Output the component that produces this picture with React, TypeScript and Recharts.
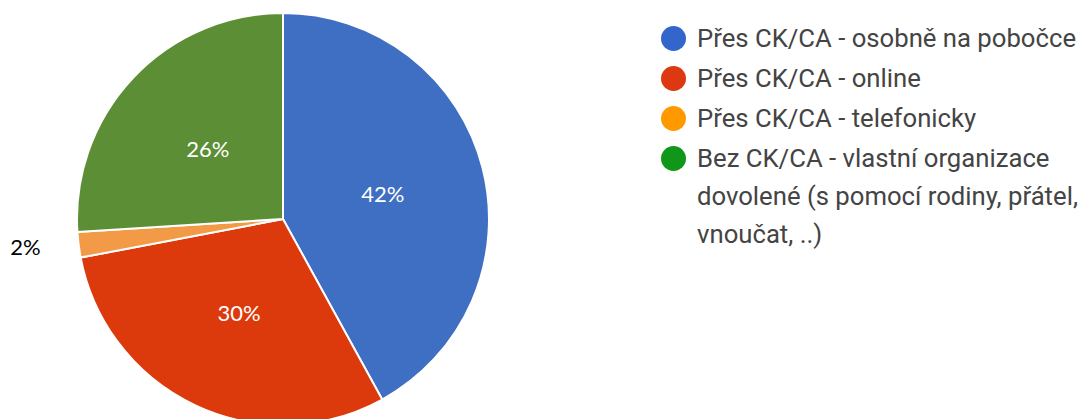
import { PieChart, Pie, Cell } from "recharts";

const categories = [
  "Přes CK/CA - osobně na pobočce",
  "Přes CK/CA - online",
  "Přes CK/CA - telefonicky",
  "Bez CK/CA - vlastní organizace dovolené (s pomocí rodiny, přátel, vnoučat, ..)",
];
const shares = [42, 30, 2, 26];
const sliceColors = ["#3F6FC3", "#DC3A0C", "#F29A46", "#5C8F35"];
const legendColors = ["#3366CC", "#DC3912", "#FF9900", "#109618"];

const data = categories.map((name, i) => ({ name, value: shares[i] }));

const RAD = Math.PI / 180;

function renderLabel(props: any) {
  const { cx, cy, midAngle, outerRadius, value } = props;
  const cos = Math.cos(-midAngle * RAD);
  const sin = Math.sin(-midAngle * RAD);
  let x = cx + outerRadius * 0.5 * cos;
  let y = cy + outerRadius * 0.5 * sin;
  let fill = "#FFFFFF";
  if (value < 5) {
    // small slice: label sits outside, to the left
    x = cx + outerRadius * 1.26 * cos;
    y = cy + outerRadius * 1.05 * sin;
    fill = "#000000";
  }
  return (
    <text
      x={x}
      y={y}
      fill={fill}
      textAnchor="middle"
      dominantBaseline="central"
      fontSize={22}
      fontFamily="Lato, 'Open Sans', sans-serif"
    >
      {`${value}%`}
    </text>
  );
}

export default function App() {
  return (
    <div style={{ position: "absolute", left: 0, top: 0, width: 1078, height: 419, background: "#fff", overflow: "hidden" }}>
      <PieChart width={1078} height={419} margin={{ top: 0, right: 0, bottom: 0, left: 0 }}>
        <Pie
          data={data}
          dataKey="value"
          nameKey="name"
          cx={283}
          cy={219}
          outerRadius={206}
          startAngle={90}
          endAngle={-270}
          stroke="#FFFFFF"
          strokeWidth={2}
          label={renderLabel}
          labelLine={false}
          isAnimationActive={false}
        >
          {data.map((d, i) => (
            <Cell key={d.name} fill={sliceColors[i]} />
          ))}
        </Pie>
      </PieChart>
      <div
        style={{
          position: "absolute",
          left: 661,
          top: 19,
          width: 430,
          fontFamily: "Roboto, Arial, sans-serif",
          fontSize: 25.7,
          color: "#444444",
        }}
      >
        {categories.map((c, i) => (
          <div key={c} style={{ display: "flex", alignItems: "flex-start", marginBottom: 2 }}>
            <span
              style={{
                flex: "0 0 auto",
                width: 25,
                height: 25,
                borderRadius: "50%",
                background: legendColors[i],
                marginTop: 7,
                marginRight: 11,
              }}
            />
            <span style={{ lineHeight: "38px", width: 392, whiteSpace: "normal" }}>{c}</span>
          </div>
        ))}
      </div>
    </div>
  );
}
